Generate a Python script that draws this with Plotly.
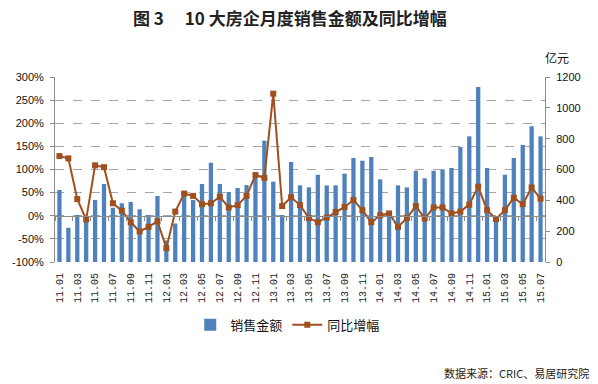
import plotly.graph_objects as go

months = ["11.01","11.02","11.03","11.04","11.05","11.06","11.07","11.08","11.09","11.10","11.11","11.12",
          "12.01","12.02","12.03","12.04","12.05","12.06","12.07","12.08","12.09","12.10","12.11","12.12",
          "13.01","13.02","13.03","13.04","13.05","13.06","13.07","13.08","13.09","13.10","13.11","13.12",
          "14.01","14.02","14.03","14.04","14.05","14.06","14.07","14.08","14.09","14.10","14.11","14.12",
          "15.01","15.02","15.03","15.04","15.05","15.06","15.07"]

sales = [467, 222, 305, 285, 402, 506, 352, 381, 389, 342, 305, 428,
         140, 250, 446, 402, 506, 644, 506, 454, 480, 499, 575, 787,
         521, 305, 649, 497, 484, 566, 497, 497, 573, 675, 657, 681,
         536, 318, 497, 484, 592, 543, 592, 601, 610, 746, 815, 1135,
         610, 290, 566, 675, 759, 880, 815]

yoy = [129, 124, 36, -8, 109, 105, 27, 11, -14, -34, -24, -12,
       -70, 9, 48, 43, 25, 27, 41, 18, 23, 43, 88, 82,
       264, 21, 40, 23, -5, -14, -4, 8, 19, 34, 12, -14,
       1, 5, -24, -5, 21, -6, 18, 18, 5, 9, 24, 63,
       12, -7, 12, 39, 25, 61, 37]

xtick_labels = months[::2]
pct_ticks = [-100, -50, 0, 50, 100, 150, 200, 250, 300]
pct_labels = ["-100%", "-50%", "0%", "50%", "100%", "150%", "200%", "250%", "300%"]
amt_ticks = [0, 200, 400, 600, 800, 1000, 1200]
amt_labels = ["0", "200", "400", "600", "800", "1000", "1200"]

BAR = "#4F81BD"
LINE = "#A0501E"
AXIS = "#8C8C8C"
GRID = "#A6A6A6"
FONT = "Liberation Sans, Arial, sans-serif"
CJK = "Noto Sans CJK SC, sans-serif"

fig = go.Figure()
fig.add_trace(go.Bar(x=months, y=sales, name="销售金额", marker=dict(color=BAR, line=dict(width=0)),
                     xaxis="x", yaxis="y"))
fig.add_trace(go.Scatter(x=months, y=yoy, name="同比增幅", mode="lines+markers",
                         line=dict(color=LINE, width=2),
                         marker=dict(symbol="square", size=6, color=LINE),
                         xaxis="x2", yaxis="y2"))

fig.update_layout(
    width=598, height=384,
    margin=dict(l=46, r=53, t=77, b=122),
    paper_bgcolor="white", plot_bgcolor="white",
    bargap=0.52,
    showlegend=True,
    legend=dict(orientation="h", x=0.475, xanchor="center", y=-0.34, yanchor="middle",
                font=dict(family=CJK, size=13, color="#111"), itemwidth=30,
                tracegroupgap=0),
    xaxis=dict(type="category", categoryorder="array", categoryarray=months,
               range=[-0.5, len(months) - 0.5],
               tickmode="array", tickvals=xtick_labels, ticktext=xtick_labels,
               tickangle=-90, ticks="", showline=False, showgrid=False, zeroline=False,
               tickfont=dict(family="Liberation Mono, monospace", size=10, color="#222"),
               ticklabelstandoff=8),
    xaxis2=dict(type="category", categoryorder="array", categoryarray=months,
                overlaying="x", anchor="free", position=0.25, matches="x",
                showticklabels=False, ticks="outside", ticklen=4, tickcolor=AXIS,
                tickson="boundaries", showline=True, linecolor=AXIS, linewidth=1,
                showgrid=False, zeroline=False),
    yaxis=dict(side="right", range=[0, 1200], tickmode="array", tickvals=amt_ticks, ticktext=amt_labels,
               showgrid=False, zeroline=False, showline=True, linecolor=AXIS,
               ticks="outside", ticklen=4, tickcolor=AXIS,
               tickfont=dict(family=FONT, size=11, color="#111"), ticklabelstandoff=4),
    yaxis2=dict(side="left", overlaying="y", range=[-100, 300], tickmode="array",
                tickvals=pct_ticks, ticktext=pct_labels,
                showgrid=True, gridcolor=GRID, griddash="dash", gridwidth=1,
                zeroline=False, showline=True, linecolor=AXIS,
                ticks="outside", ticklen=4, tickcolor=AXIS,
                tickfont=dict(family=FONT, size=11, color="#111"), ticklabelstandoff=4),
    annotations=[
        dict(text="<b>图 3　 10 大房企月度销售金额及同比增幅</b>", x=0.48, y=1.324, xref="paper", yref="paper",
             xanchor="center", yanchor="middle", showarrow=False,
             font=dict(family=CJK, size=17, color="#222")),
        dict(text="亿元", x=1.025, y=1.103, xref="paper", yref="paper",
             xanchor="center", yanchor="middle", showarrow=False,
             font=dict(family=CJK, size=12, color="#111")),
        dict(text="数据来源：CRIC、易居研究院", x=1.094, y=-0.6, xref="paper", yref="paper",
             xanchor="right", yanchor="middle", showarrow=False,
             font=dict(family=CJK, size=11, color="#222")),
    ],
)

fig.write_html("out.html", config={"displayModeBar": False},
               post_script="document.body.style.margin='0px';")
